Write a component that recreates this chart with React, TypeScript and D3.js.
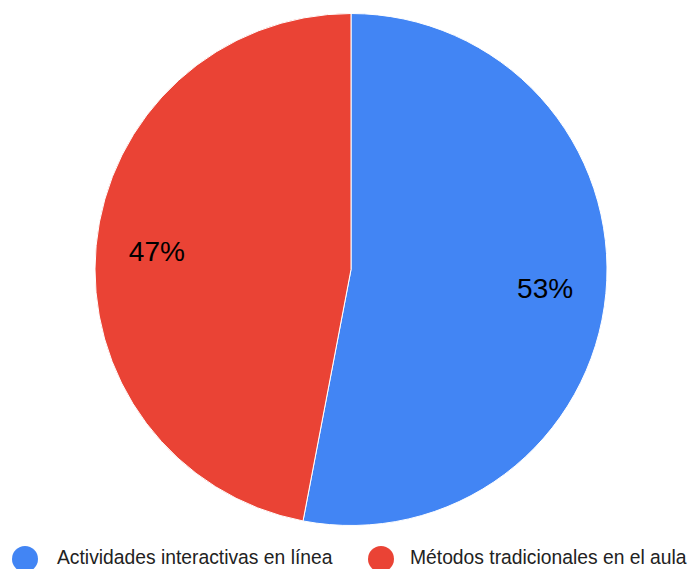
import React from 'react';
import * as d3 from 'd3';

const categories = ['Actividades interactivas en línea', 'Métodos tradicionales en el aula'];
const values = [53, 47];
const colors = ['#4285f4', '#ea4335'];

const width = 692;
const height = 569;
const cx = 351;
const cy = 269.5;
const radius = 256;

const App: React.FC = () => {
  const pie = d3.pie<number>().sort(null).value(d => d);
  const arcs = pie(values);
  const arc = d3.arc<d3.PieArcDatum<number>>().innerRadius(0).outerRadius(radius);
  const labelArc = d3.arc<d3.PieArcDatum<number>>().innerRadius(195).outerRadius(195);
  const total = d3.sum(values);

  // legend swatch centers and text starts
  const legendX = [25, 381];
  const legendTextX = [57, 410];

  return (
    <svg
      width={width}
      height={height}
      style={{ position: 'absolute', left: 0, top: 0 }}
      fontFamily="Arial, 'Liberation Sans', sans-serif"
    >
      <rect width={width} height={height} fill="#fff" />
      <g transform={`translate(${cx},${cy})`}>
        {arcs.map((a, i) => (
          <path key={i} d={arc(a) || ''} fill={colors[i]} stroke="#fff" strokeWidth={1} />
        ))}
        {arcs.map((a, i) => {
          const [x, y] = labelArc.centroid(a);
          return (
            <text key={i} x={x} y={y + 10} textAnchor="middle" fontSize={28} fill="#000">
              {Math.round((a.data / total) * 100)}%
            </text>
          );
        })}
      </g>
      {categories.map((c, i) => (
        <g key={c}>
          <circle cx={legendX[i]} cy={559} r={13} fill={colors[i]} />
          <text x={legendTextX[i]} y={564} fontSize={19.3} fill="#222">
            {c}
          </text>
        </g>
      ))}
    </svg>
  );
};

export default App;
